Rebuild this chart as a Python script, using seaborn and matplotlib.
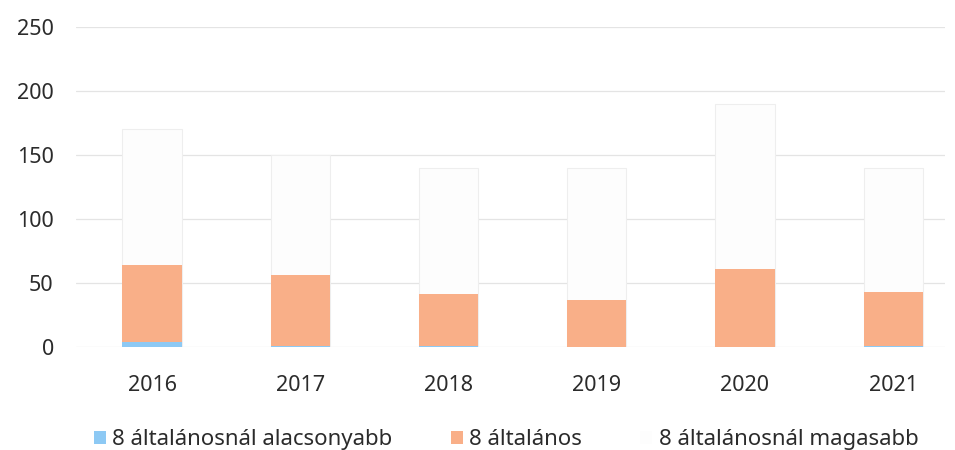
import matplotlib
matplotlib.use("Agg")
import matplotlib.pyplot as plt
import seaborn as sns
import pandas as pd
import numpy as np
from matplotlib.patches import Patch

years = ["2016", "2017", "2018", "2019", "2020", "2021"]
lower = [3.5, 0.5, 0.5, 0.3, 0.3, 1.0]          # 8 általánosnál alacsonyabb
primary = [60.5, 55.5, 40.5, 36.5, 60.5, 42.0]   # 8 általános
higher = [106, 94, 99, 103, 129, 97]             # 8 általánosnál magasabb

labels = ["8 általánosnál alacsonyabb", "8 általános", "8 általánosnál magasabb"]
colors = ["#8DC9F4", "#F9AF88", "#FDFDFD"]

sns.set_theme(style="white")
plt.rcParams["font.family"] = ["Noto Sans", "DejaVu Sans"]

df = pd.DataFrame({"year": years, "lower": lower, "primary": primary, "higher": higher})
df["c1"] = df["lower"]
df["c2"] = df["lower"] + df["primary"]
df["c3"] = df["c2"] + df["higher"]

fig = plt.figure(figsize=(9.55, 4.5), dpi=100)
ax = fig.add_axes([0.0796, 0.229, 0.91, 0.711])

for y in range(0, 251, 50):
    ax.axhline(y, color="#E4E4E4", lw=0.9, zorder=0)

sns.barplot(data=df, x="year", y="c3", color=colors[2], width=0.4, ax=ax,
            saturation=1, edgecolor="#EEEEEE", linewidth=0.8, zorder=2)
sns.barplot(data=df, x="year", y="c2", color=colors[1], width=0.4, ax=ax,
            saturation=1, linewidth=0, zorder=3)
sns.barplot(data=df, x="year", y="c1", color=colors[0], width=0.4, ax=ax,
            saturation=1, linewidth=0, zorder=4)

ax.set_ylim(0, 250)
ax.set_xlim(-0.513, 5.35)
ax.set_yticks(range(0, 251, 50))
ax.set_xlabel("")
ax.set_ylabel("")
for s in ax.spines.values():
    s.set_visible(False)
ax.tick_params(axis="y", length=0, pad=16, labelsize=15.5, labelcolor="#2B2B2B")
ax.tick_params(axis="x", length=0, pad=20, labelsize=15.5, labelcolor="#2B2B2B")

handles = [Patch(facecolor=c, edgecolor="none") for c in colors]
fig.legend(handles, labels, loc="lower center", bbox_to_anchor=(0.53, -0.045), ncol=3,
           frameon=False, fontsize=16, handlelength=0.55, handleheight=0.55,
           handletextpad=0.3, columnspacing=2.6, labelcolor="#2B2B2B")

fig.savefig("out.png", dpi=100, facecolor="white")
